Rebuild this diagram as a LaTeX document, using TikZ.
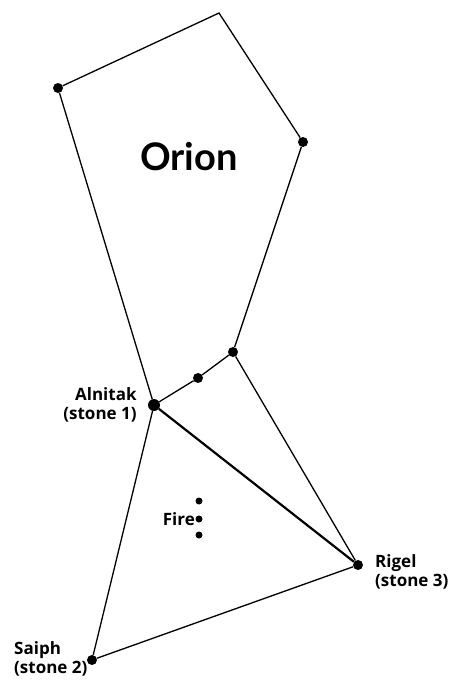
\documentclass[tikz,border=0pt]{standalone}
\usepackage{fontspec}
\setmainfont{Lato}
\newfontfamily\lblfont{Open Sans}
\usetikzlibrary{positioning}

\begin{document}
\begin{tikzpicture}[x=1pt,y=-1pt,
  star/.style={circle,fill=black,inner sep=0pt,minimum size=10pt},
  link/.style={line width=1.3pt},
  lbl/.style={font=\lblfont\bfseries\fontsize{17}{19}\selectfont,inner sep=0pt}]
  \useasboundingbox (0,0) rectangle (458,685);
  % The constellation outline, shoulders down to the belt.
  \coordinate (head) at (219,13);
  \node[star] (betel) at (58,88) {};
  \node[star] (bella) at (303,142) {};
  \node[star] (mintaka) at (233,352) {};
  \node[star] (alnilam) at (198,378) {};
  \node[star,minimum size=12pt] (alnitak) at (154,405) {};
  \node[star] (rigel) at (358,565) {};
  \node[star] (saiph) at (92,660) {};
  \draw[link] (betel)--(head)--(bella)--(mintaka)--(alnilam)--(alnitak)--(betel);
  \draw[link] (mintaka)--(rigel)--(saiph)--(alnitak);
  \draw[line width=2.2pt] (alnitak)--(rigel);
  % The fire inside the stone triangle.
  \foreach \n/\y in {1/501,2/519,3/535}
    \node[star,minimum size=7pt] (fire\n) at (199,\y) {};
  \node[font=\bfseries\fontsize{38}{40}\selectfont] (title) at (189,157) {Orion};
  \node[lbl,align=right,left=11pt of alnitak] (alnitaklbl) {Alnitak\\(stone 1)};
  \node[lbl,anchor=east] (firelbl) at (195,519) {Fire};
  \node[lbl,align=left,anchor=west] (saiphlbl) at (14,659) {Saiph\\(stone 2)};
  \node[lbl,align=left,anchor=west] (rigellbl) at (375,572) {Rigel\\(stone 3)};
\end{tikzpicture}
\end{document}
